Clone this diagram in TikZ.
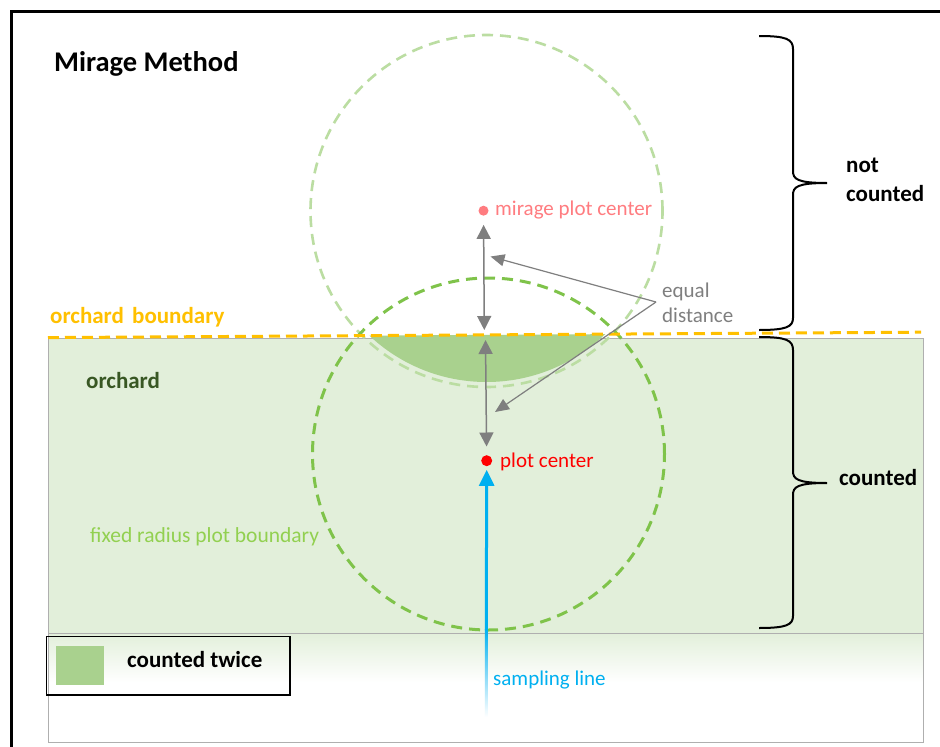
\documentclass[tikz,border=0pt]{standalone}
\usepackage{fontspec}
\setmainfont{Carlito}
\usetikzlibrary{arrows.meta}
\definecolor{orchfill}{HTML}{E2EFDA}
\definecolor{twicefill}{HTML}{A9D18E}
\definecolor{plotgreen}{HTML}{7FC34A}
\definecolor{miragegreen}{HTML}{BBDDA2}
\definecolor{boundorange}{HTML}{FFC000}
\definecolor{miragepink}{HTML}{FF7C80}
\definecolor{plotred}{HTML}{FF0000}
\definecolor{sampleblue}{HTML}{00B0F0}
\definecolor{arrowgray}{HTML}{7F7F7F}
\definecolor{orchdark}{HTML}{385723}
\definecolor{labelgreen}{HTML}{92D050}
\definecolor{rectgray}{HTML}{AFAFAF}
\tikzset{
  boldlbl/.style={font=\bfseries\fontsize{23}{29}\selectfont, inner sep=0pt, anchor=base west},
  reglbl/.style={font=\fontsize{21}{24.3}\selectfont, inner sep=0pt, anchor=base west},
  dashcircle/.style={circle, inner sep=0pt, minimum size=352pt, line width=3pt, dash pattern=on 11pt off 7pt},
  grayarrow/.style={draw=arrowgray, line width=1.5pt, {Triangle[length=14pt,width=14pt]}-{Triangle[length=14pt,width=14pt]}},
  pointer/.style={draw=arrowgray, line width=1.2pt, -{Triangle[length=14pt,width=12pt]}},
  bracepath/.style={draw=black, line width=2pt},
  dotnode/.style={circle, inner sep=0pt, minimum size=10pt},
}
\begin{document}
\begin{tikzpicture}[x=1pt,y=-1pt]
\useasboundingbox (0,0) rectangle (940,747);
\fill[white] (0,0) rectangle (940,747);
% orchard area and fading strip below it
\shade[top color=orchfill, bottom color=white] (48,633) rectangle (923,682);
\fill[orchfill] (48,338) rectangle (923,633);
\draw[rectgray, line width=1pt] (48,338) rectangle (923,742);
\draw[rectgray, line width=0.8pt] (48,633) -- (923,633);
% area counted twice
\begin{scope}
\clip (48,337.6) -- (921,332.2) -- (921,700) -- (48,700) -- cycle;
\fill[twicefill] (486.5,211) circle[radius=171];
\end{scope}
% circles
\node[dashcircle, draw=miragegreen, line width=2.6pt] (miragecirc) at (486.5,211) {};
\node[dashcircle, draw=plotgreen] (plotcirc) at (488.5,454) {};
% orchard boundary
\draw[boundorange, line width=3pt, dash pattern=on 11pt off 6pt] (48,337.6) -- (921,332.2);
% dots
\node[dotnode, fill=miragepink] (mdot) at (483.5,210.7) {};
\node[dotnode, fill=plotred, minimum size=11pt] (pdot) at (486.7,460.7) {};
% labels
\node[font=\bfseries\fontsize{28.5}{30}\selectfont, inner sep=0pt, anchor=base west] (title) at (54,71) {Mirage Method};
\node[reglbl, text=miragepink] (mlbl) at (495,215) {mirage plot center};
\node[reglbl, text=plotred] (plbl) at (500,467) {plot center};
\node[reglbl, text=sampleblue] (slbl) at (493,685) {sampling line};
\node[reglbl, text=labelgreen, font=\fontsize{21.5}{24.3}\selectfont] (flbl) at (90,542) {fixed radius plot boundary};
\node[reglbl, text=arrowgray, align=left] (eqlbl) at (662,322) {equal\\distance};
\node[boldlbl, text=orchdark] (olbl) at (86,388) {orchard};
\node[boldlbl, text=boundorange] (oblbl) at (50,323.5) {orchard\hspace{3pt} boundary};
\node[boldlbl, align=left] (nclbl) at (846,201.7) {not\\counted};
\node[boldlbl] (clbl) at (839,485) {counted};
% equal distance arrows
\coordinate (bup) at (484.3,330);
\coordinate (bdn) at (485.5,340);
\draw[grayarrow, shorten <=9pt] (mdot) -- (bup);
\draw[grayarrow, shorten >=8.5pt] (bdn) -- (pdot);
\coordinate (eqj) at (656,302);
\coordinate (eqa) at (490.5,256.5);
\coordinate (eqb) at (495,412);
\draw[pointer] (eqj) -- (eqa);
\draw[pointer] (eqj) -- (eqb);
% sampling line
\coordinate (sfade) at (486.3,630);
\shade[top color=sampleblue, bottom color=white] (484.8,629) rectangle (487.8,717);
\draw[sampleblue, line width=3pt, -{Triangle[length=16pt,width=15pt]}, shorten >=3.5pt] (sfade) -- (pdot);
% braces
\draw[bracepath] (759,36) .. controls (786,36) and (793,39) .. (793,49) -- (793,171)
  .. controls (793,179) and (797,183) .. (827,183)
  .. controls (797,183) and (793,187) .. (793,195) -- (793,318)
  .. controls (793,327) and (786,330) .. (759,330);
\draw[bracepath] (759,337) .. controls (786,337) and (793,340) .. (793,350) -- (793,471)
  .. controls (793,479) and (797,483) .. (827,483)
  .. controls (797,483) and (793,487) .. (793,495) -- (793,616)
  .. controls (793,625) and (786,628) .. (759,628);
% legend
\draw[black, line width=1.3pt] (46.7,636.7) rectangle (290,695);
\fill[twicefill] (56,646) rectangle (104,685.3);
\node[boldlbl] (ctlbl) at (127,667) {counted twice};
% frame
\draw[black, line width=2.7pt] (11.3,747) -- (11.3,11.3) -- (940,11.3);
\end{tikzpicture}
\end{document}
